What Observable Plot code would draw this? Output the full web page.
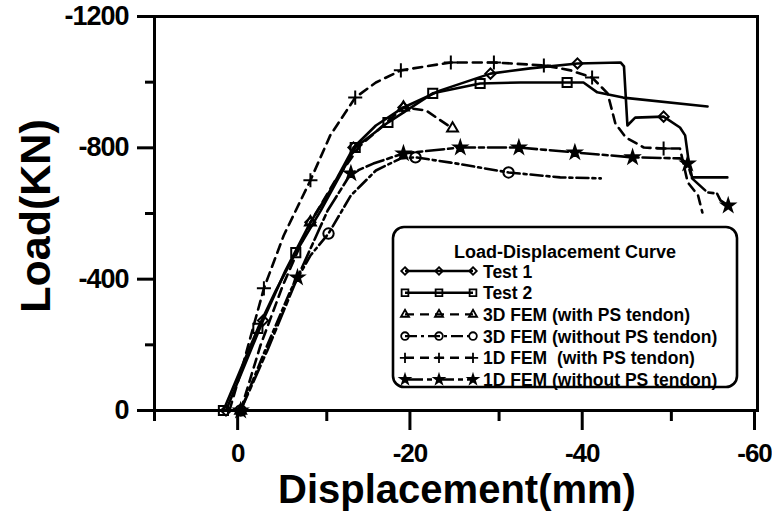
<!DOCTYPE html>
<html><head><meta charset="utf-8">
<script src="https://cdn.jsdelivr.net/npm/d3@7"></script>
<script src="https://cdn.jsdelivr.net/npm/@observablehq/plot@0.6"></script>
<style>
body{margin:0;background:#fff}
#chart{position:relative;width:772px;height:516px}
text{font-family:"Liberation Sans",Arial,sans-serif}
g[aria-label="x-axis tick label"] text{letter-spacing:-1px}
g[aria-label="y-axis tick label"] text{letter-spacing:-1px}
</style>
</head><body><div id="chart"></div>
<script>
// ---- data ----
const seriesNames = ["Test 1","Test 2","3D FEM (with PS tendon)","3D FEM (without PS tendon)","1D FEM  (with PS tendon)","1D FEM (without PS tendon)"];

const test1Disp = [1.7,-2.6,-5.2,-8.1,-10.4,-13.1,-15.7,-18.9,-23.2,-29.0,-33.6,-39.1,-44.1,-44.5,-44.9,-45.8,-49.1,-51.0,-51.6,-52.0,-52.4,-56.5];
const test1Load = [0,-274,-426,-573,-670,-801,-868,-923,-975,-1026,-1042,-1057,-1060,-1048,-868,-892,-895,-862,-838,-761,-710,-710];
const test1Marks = [0,1,3,5,7,9,11,16];

const test2Disp = [2.0,-2.0,-4.1,-6.4,-9.3,-13.3,-17.1,-22.3,-27.8,-32.5,-37.9,-39.8,-41.4,-44.4,-54.2];
const test2Load = [0,-250,-366,-481,-609,-801,-877,-966,-996,-999,-999,-999,-969,-953,-926];
const test2Marks = [0,1,3,5,6,7,8,10];

const fem3dPsDisp = [0,-2.3,-4.9,-8.1,-11.0,-13.9,-18.9,-21.5,-24.6];
const fem3dPsLoad = [0,-198,-381,-573,-701,-807,-923,-914,-859];
const fem3dPsMarks = [0,3,6,8];

const fem3dNoDisp = [0,-2.6,-5.8,-8.1,-10.2,-12.8,-15.7,-18.6,-20.3,-24.4,-31.1,-37.1,-41.8];
const fem3dNoLoad = [0,-168,-366,-472,-539,-655,-731,-768,-771,-755,-725,-710,-707];
const fem3dNoMarks = [0,4,8,10];

const fem1dPsDisp = [1.3,-0.4,-2.7,-5.0,-8.1,-10.4,-13.3,-15.7,-18.6,-24.4,-29.4,-35.2,-38.3,-40.8,-42.6,-43.5,-44.7,-46.8,-49.1,-51.0,-51.9,-53.1,-53.6];
const fem1dPsLoad = [0,-152,-372,-533,-701,-838,-953,-999,-1036,-1060,-1060,-1051,-1036,-1014,-966,-874,-832,-801,-798,-798,-695,-655,-603];
const fem1dPsMarks = [2,4,6,8,9,10,11,13,18];

const fem1dNoDisp = [0,-3.1,-6.6,-10.1,-12.8,-15.4,-18.9,-25.5,-32.3,-38.8,-45.5,-51.0,-51.9,-52.4,-54.2,-55.3,-55.7,-56.6];
const fem1dNoLoad = [0,-183,-405,-609,-722,-752,-783,-801,-801,-786,-771,-768,-752,-707,-664,-661,-640,-624];
const fem1dNoMarks = [0,2,4,6,7,8,9,10,12,17];

const xMajorTicks = [0,-20,-40,-60];
const xMinorTicks = [10,-10,-30,-50];
const yMajorTicks = [0,-400,-800,-1200];
const yMinorTicks = [-200,-600,-1000];

// ---- styling ----
const styles = [
  {symbol:"diamond2", r:4.6, dash:null, fill:"none"},
  {symbol:"square2",  r:5.8, dash:null, fill:"none"},
  {symbol:"triangle2",r:5.2, dash:"9,6", fill:"none"},
  {symbol:"circle",   r:5.2, dash:"12,4,3,4", fill:"none"},
  {symbol:"plus",     r:4.6, dash:"9,6", fill:"none"},
  {symbol:"star",     r:3.9, dash:"18,4,5,4", fill:"black"}
];

const raw = [
  [test1Disp,test1Load,test1Marks],
  [test2Disp,test2Load,test2Marks],
  [fem3dPsDisp,fem3dPsLoad,fem3dPsMarks],
  [fem3dNoDisp,fem3dNoLoad,fem3dNoMarks],
  [fem1dPsDisp,fem1dPsLoad,fem1dPsMarks],
  [fem1dNoDisp,fem1dNoLoad,fem1dNoMarks]
];

const marks = [];
raw.forEach(([xs,ys,mk],k)=>{
  const pts = xs.map((x,i)=>({x, y: ys[i]}));
  const st = styles[k];
  marks.push(Plot.line(pts,{x:"x",y:"y",stroke:"black",strokeWidth:2.6,strokeDasharray:st.dash,strokeLinejoin:"round"}));
  marks.push(Plot.dot(mk.map(i=>pts[i]),{x:"x",y:"y",symbol:()=>st.symbol,r:st.r,stroke:"black",strokeWidth:2,fill:st.fill}));
});

const fmt = d=>`${d}`;
const chart = Plot.plot({
  width:772, height:516,
  marginLeft:154, marginRight:15, marginTop:16, marginBottom:106,
  x:{domain:[10,-60]},
  y:{domain:[0,-1200]},
  symbol:{type:"identity"},
  style:{fontFamily:"Liberation Sans, Arial, sans-serif", fontWeight:"bold", background:"white", color:"black"},
  marks:[
    ...marks,
    Plot.frame({stroke:"black",strokeWidth:3}),
    Plot.axisX({ticks:xMajorTicks, tickSize:20, tickPadding:13, tickFormat:fmt, fontSize:26, fontWeight:"bold", strokeWidth:3, dx:-3, label:null}),
    Plot.axisX({ticks:xMinorTicks, tickSize:11, tickFormat:()=>"", strokeWidth:3, label:null}),
    Plot.axisY({ticks:yMajorTicks, tickSize:17, tickPadding:9, tickFormat:fmt, fontSize:27, fontWeight:"bold", strokeWidth:3, label:null}),
    Plot.axisY({ticks:yMinorTicks, tickSize:9, tickFormat:()=>"", strokeWidth:3, label:null})
  ]
});
document.getElementById("chart").appendChild(chart);

// ---- axis titles and legend ----
const svg = d3.select(chart);
svg.append("text").attr("x",457).attr("y",503).attr("text-anchor","middle")
  .attr("font-size",40).attr("font-weight","bold").attr("fill","black").text("Displacement(mm)");
svg.append("text").attr("transform","translate(50,216) rotate(-90)").attr("text-anchor","middle")
  .attr("font-size",43).attr("font-weight","bold").attr("fill","black").text("Load(KN)");

const lg = svg.append("g");
lg.append("rect").attr("x",393).attr("y",227).attr("width",344).attr("height",160).attr("rx",11)
  .attr("fill","white").attr("stroke","black").attr("stroke-width",2.6);
lg.append("text").attr("x",565).attr("y",258).attr("text-anchor","middle")
  .attr("font-size",18).attr("font-weight","bold").attr("fill","black").text("Load-Displacement Curve");
const symMap = {diamond2:d3.symbolDiamond2, square2:d3.symbolSquare2, triangle2:d3.symbolTriangle2, circle:d3.symbolCircle, plus:d3.symbolPlus, star:d3.symbolStar};
seriesNames.forEach((name,k)=>{
  const cy = 271 + k*21.7;
  const st = styles[k];
  lg.append("line").attr("x1",405).attr("x2",473).attr("y1",cy).attr("y2",cy)
    .attr("stroke","black").attr("stroke-width",2.4).attr("stroke-dasharray",st.dash);
  [405,439,473].forEach(sx=>{
    lg.append("path").attr("transform",`translate(${sx},${cy})`)
      .attr("d",d3.symbol(symMap[st.symbol], Math.PI*st.r*st.r*0.55)())
      .attr("fill",st.fill).attr("stroke","black").attr("stroke-width",1.8);
  });
  lg.append("text").attr("x",483).attr("y",cy+6.5).attr("text-anchor","start").attr("font-size",17.5).attr("font-weight","bold")
    .attr("fill","black").style("white-space","pre").text(name);
});
</script>
</body></html>
